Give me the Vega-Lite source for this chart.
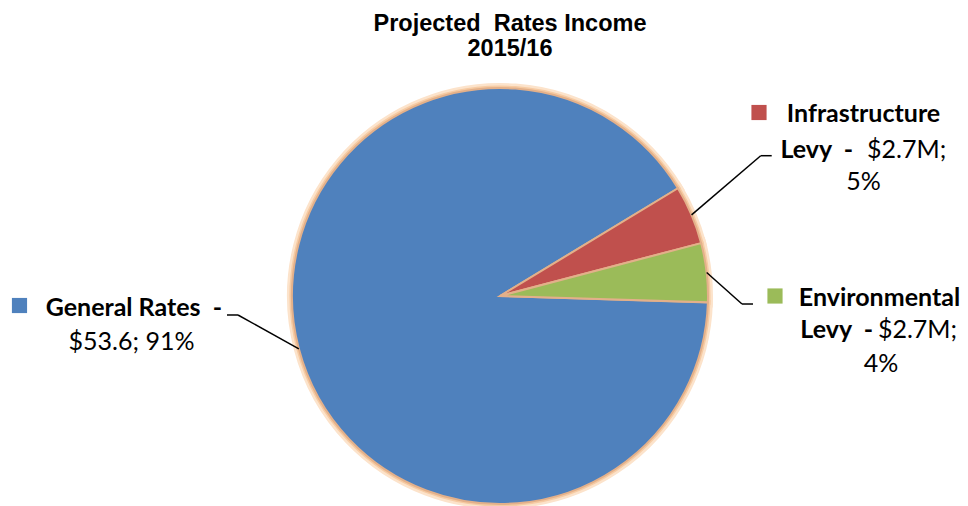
{
  "$schema": "https://vega.github.io/schema/vega-lite/v6.json",
  "width": 968,
  "height": 444,
  "autosize": {"type": "none"},
  "padding": {"top": 62, "left": 0, "right": 0, "bottom": 0},
  "background": "white",
  "title": {
    "text": ["Projected\u00a0 Rates Income", "2015/16"],
    "font": "Liberation Sans",
    "fontSize": 23.5,
    "fontWeight": "bold",
    "color": "#000000",
    "lineHeight": 25,
    "anchor": "middle",
    "dx": 26,
    "offset": 2
  },
  "config": {"view": {"stroke": null}},
  "data": {
    "values": [
      {"cat": "General Rates", "value": 53.6, "amount": "$53.6", "share": "91%", "o": 3},
      {"cat": "Infrastructure Levy", "value": 2.7, "amount": "$2.7M", "share": "5%", "o": 1},
      {"cat": "Environmental Levy", "value": 2.7, "amount": "$2.7M", "share": "4%", "o": 2}
    ]
  },
  "encoding": {
    "x": {"datum": 0, "type": "quantitative", "scale": {"domain": [-2.4038, 2.25], "nice": false, "zero": false}, "axis": null},
    "y": {"datum": 0, "type": "quantitative", "scale": {"domain": [-1.0096, 1.125], "nice": false, "zero": false}, "axis": null}
  },
  "layer": [
    {
      "mark": {"type": "arc", "outerRadius": 208, "stroke": "#FCE3CB", "strokeWidth": 10},
      "encoding": {
        "theta": {"field": "value", "type": "quantitative", "stack": true, "scale": {"range": [1.02625, 7.30944]}},
        "order": {"field": "o"},
        "color": {"field": "cat", "type": "nominal", "scale": {"domain": ["General Rates", "Infrastructure Levy", "Environmental Levy"], "range": ["#4F81BD", "#C0504D", "#9BBB59"]}, "legend": null}
      }
    },
    {
      "mark": {"type": "arc", "outerRadius": 208, "stroke": "#F6CBA3", "strokeWidth": 5},
      "encoding": {
        "theta": {"field": "value", "type": "quantitative", "stack": true, "scale": {"range": [1.02625, 7.30944]}},
        "order": {"field": "o"},
        "color": {"field": "cat", "type": "nominal", "scale": {"domain": ["General Rates", "Infrastructure Levy", "Environmental Levy"], "range": ["#4F81BD", "#C0504D", "#9BBB59"]}, "legend": null}
      }
    },
    {
      "mark": {"type": "arc", "outerRadius": 208, "stroke": "#E3B08A", "strokeWidth": 2},
      "encoding": {
        "theta": {"field": "value", "type": "quantitative", "stack": true, "scale": {"range": [1.02625, 7.30944]}},
        "order": {"field": "o"},
        "color": {"field": "cat", "type": "nominal", "scale": {"domain": ["General Rates", "Infrastructure Levy", "Environmental Levy"], "range": ["#4F81BD", "#C0504D", "#9BBB59"]}, "legend": null}
      }
    },
    {
      "transform": [{"filter": "datum.cat === 'General Rates'"}],
      "mark": {"type": "rule", "color": "#000000", "strokeWidth": 1.5},
      "encoding": {"x": {"datum": -0.967}, "y": {"datum": -0.254}, "x2": {"datum": -1.2596}, "y2": {"datum": -0.0913}}
    },
    {
      "transform": [{"filter": "datum.cat === 'General Rates'"}],
      "mark": {"type": "rule", "color": "#000000", "strokeWidth": 1.5},
      "encoding": {"x": {"datum": -1.2596}, "y": {"datum": -0.0913}, "x2": {"datum": -1.3125}, "y2": {"datum": -0.0913}}
    },
    {
      "transform": [{"filter": "datum.cat === 'Infrastructure Levy'"}],
      "mark": {"type": "rule", "color": "#000000", "strokeWidth": 1.5},
      "encoding": {"x": {"datum": 0.921}, "y": {"datum": 0.39}, "x2": {"datum": 1.2534}, "y2": {"datum": 0.6745}}
    },
    {
      "transform": [{"filter": "datum.cat === 'Infrastructure Levy'"}],
      "mark": {"type": "rule", "color": "#000000", "strokeWidth": 1.5},
      "encoding": {"x": {"datum": 1.2534}, "y": {"datum": 0.6745}, "x2": {"datum": 1.3063}, "y2": {"datum": 0.6745}}
    },
    {
      "transform": [{"filter": "datum.cat === 'Environmental Levy'"}],
      "mark": {"type": "rule", "color": "#000000", "strokeWidth": 1.5},
      "encoding": {"x": {"datum": 0.9936}, "y": {"datum": 0.1132}, "x2": {"datum": 1.1635}, "y2": {"datum": -0.0385}}
    },
    {
      "transform": [{"filter": "datum.cat === 'Environmental Levy'"}],
      "mark": {"type": "rule", "color": "#000000", "strokeWidth": 1.5},
      "encoding": {"x": {"datum": 1.1635}, "y": {"datum": -0.0385}, "x2": {"datum": 1.2163}, "y2": {"datum": -0.0385}}
    },
    {
      "transform": [{"filter": "datum.cat === 'General Rates'"}],
      "mark": {"type": "point", "shape": "square", "size": 230, "filled": true, "opacity": 1},
      "encoding": {
        "x": {"datum": -2.3101}, "y": {"datum": -0.0457},
        "color": {"field": "cat", "type": "nominal", "scale": {"domain": ["General Rates", "Infrastructure Levy", "Environmental Levy"], "range": ["#4F81BD", "#C0504D", "#9BBB59"]}, "legend": null}
      }
    },
    {
      "transform": [{"filter": "datum.cat === 'Infrastructure Levy'"}],
      "mark": {"type": "point", "shape": "square", "size": 230, "filled": true, "opacity": 1},
      "encoding": {
        "x": {"datum": 1.2452}, "y": {"datum": 0.8822},
        "color": {"field": "cat", "type": "nominal", "scale": {"domain": ["General Rates", "Infrastructure Levy", "Environmental Levy"], "range": ["#4F81BD", "#C0504D", "#9BBB59"]}, "legend": null}
      }
    },
    {
      "transform": [{"filter": "datum.cat === 'Environmental Levy'"}],
      "mark": {"type": "point", "shape": "square", "size": 230, "filled": true, "opacity": 1},
      "encoding": {
        "x": {"datum": 1.3221}, "y": {"datum": 0.0},
        "color": {"field": "cat", "type": "nominal", "scale": {"domain": ["General Rates", "Infrastructure Levy", "Environmental Levy"], "range": ["#4F81BD", "#C0504D", "#9BBB59"]}, "legend": null}
      }
    },
    {
      "mark": {"type": "text", "radius": 208, "font": "Lato", "fontSize": 25, "fontWeight": "bold", "color": "#000000", "align": "right", "baseline": "alphabetic", "dx": -76.8, "dy": -33.2},
      "encoding": {
        "theta": {"field": "value", "type": "quantitative", "stack": true, "scale": {"range": [1.02625, 7.30944]}},
        "order": {"field": "o"}, "detail": {"field": "cat"},
        "text": {"condition": {"test": "datum.cat === 'General Rates'", "value": "General Rates\u00a0 -"}, "value": ""}
      }
    },
    {
      "mark": {"type": "text", "radius": 208, "font": "Lato", "fontSize": 25, "color": "#000000", "align": "center", "baseline": "alphabetic", "dx": -167.3, "dy": 0.8},
      "encoding": {
        "theta": {"field": "value", "type": "quantitative", "stack": true, "scale": {"range": [1.02625, 7.30944]}},
        "order": {"field": "o"}, "detail": {"field": "cat"},
        "text": {"condition": {"test": "datum.cat === 'General Rates'", "value": "$53.6; 91%"}, "value": ""}
      }
    },
    {
      "mark": {"type": "text", "radius": 208, "font": "Lato", "fontSize": 25, "fontWeight": "bold", "color": "#000000", "align": "center", "baseline": "alphabetic", "dx": 172, "dy": -93.2},
      "encoding": {
        "theta": {"field": "value", "type": "quantitative", "stack": true, "scale": {"range": [1.02625, 7.30944]}},
        "order": {"field": "o"}, "detail": {"field": "cat"},
        "text": {"condition": {"test": "datum.cat === 'Infrastructure Levy'", "value": "Infrastructure"}, "value": ""}
      }
    },
    {
      "mark": {"type": "text", "radius": 208, "font": "Lato", "fontSize": 25, "fontWeight": "bold", "color": "#000000", "align": "right", "baseline": "alphabetic", "dx": 161.5, "dy": -57.2},
      "encoding": {
        "theta": {"field": "value", "type": "quantitative", "stack": true, "scale": {"range": [1.02625, 7.30944]}},
        "order": {"field": "o"}, "detail": {"field": "cat"},
        "text": {"condition": {"test": "datum.cat === 'Infrastructure Levy'", "value": "Levy\u00a0 -"}, "value": ""}
      }
    },
    {
      "mark": {"type": "text", "radius": 208, "font": "Lato", "fontSize": 25, "color": "#000000", "align": "left", "baseline": "alphabetic", "dx": 175.5, "dy": -57.2},
      "encoding": {
        "theta": {"field": "value", "type": "quantitative", "stack": true, "scale": {"range": [1.02625, 7.30944]}},
        "order": {"field": "o"}, "detail": {"field": "cat"},
        "text": {"condition": {"test": "datum.cat === 'Infrastructure Levy'", "value": "$2.7M;"}, "value": ""}
      }
    },
    {
      "mark": {"type": "text", "radius": 208, "font": "Lato", "fontSize": 25, "color": "#000000", "align": "center", "baseline": "alphabetic", "dx": 172, "dy": -24.9},
      "encoding": {
        "theta": {"field": "value", "type": "quantitative", "stack": true, "scale": {"range": [1.02625, 7.30944]}},
        "order": {"field": "o"}, "detail": {"field": "cat"},
        "text": {"condition": {"test": "datum.cat === 'Infrastructure Levy'", "value": "5%"}, "value": ""}
      }
    },
    {
      "mark": {"type": "text", "radius": 208, "font": "Lato", "fontSize": 25, "fontWeight": "bold", "color": "#000000", "align": "center", "baseline": "alphabetic", "dx": 172.8, "dy": 33.2},
      "encoding": {
        "theta": {"field": "value", "type": "quantitative", "stack": true, "scale": {"range": [1.02625, 7.30944]}},
        "order": {"field": "o"}, "detail": {"field": "cat"},
        "text": {"condition": {"test": "datum.cat === 'Environmental Levy'", "value": "Environmental"}, "value": ""}
      }
    },
    {
      "mark": {"type": "text", "radius": 208, "font": "Lato", "fontSize": 25, "fontWeight": "bold", "color": "#000000", "align": "right", "baseline": "alphabetic", "dx": 166.3, "dy": 65.8},
      "encoding": {
        "theta": {"field": "value", "type": "quantitative", "stack": true, "scale": {"range": [1.02625, 7.30944]}},
        "order": {"field": "o"}, "detail": {"field": "cat"},
        "text": {"condition": {"test": "datum.cat === 'Environmental Levy'", "value": "Levy\u00a0 -"}, "value": ""}
      }
    },
    {
      "mark": {"type": "text", "radius": 208, "font": "Lato", "fontSize": 25, "color": "#000000", "align": "left", "baseline": "alphabetic", "dx": 171.3, "dy": 65.8},
      "encoding": {
        "theta": {"field": "value", "type": "quantitative", "stack": true, "scale": {"range": [1.02625, 7.30944]}},
        "order": {"field": "o"}, "detail": {"field": "cat"},
        "text": {"condition": {"test": "datum.cat === 'Environmental Levy'", "value": "$2.7M;"}, "value": ""}
      }
    },
    {
      "mark": {"type": "text", "radius": 208, "font": "Lato", "fontSize": 25, "color": "#000000", "align": "center", "baseline": "alphabetic", "dx": 174.3, "dy": 99.2},
      "encoding": {
        "theta": {"field": "value", "type": "quantitative", "stack": true, "scale": {"range": [1.02625, 7.30944]}},
        "order": {"field": "o"}, "detail": {"field": "cat"},
        "text": {"condition": {"test": "datum.cat === 'Environmental Levy'", "value": "4%"}, "value": ""}
      }
    }
  ]
}
